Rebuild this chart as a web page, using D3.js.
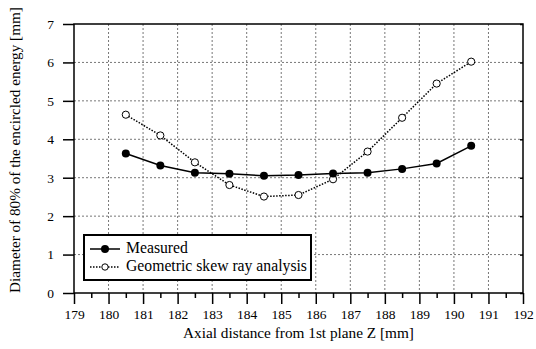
<!DOCTYPE html>
<html>
<head>
<meta charset="utf-8">
<script src="https://cdn.jsdelivr.net/npm/d3@7"></script>
<style>
  body { margin: 0; background: #fff; }
</style>
</head>
<body>
<svg id="chart" width="536" height="349"></svg>
<script>
const zValues = [180.5, 181.5, 182.5, 183.5, 184.5, 185.5, 186.5, 187.5, 188.5, 189.5, 190.5];
const measured = [3.63, 3.32, 3.13, 3.10, 3.05, 3.07, 3.11, 3.13, 3.23, 3.37, 3.83];
const geometric = [4.64, 4.10, 3.40, 2.81, 2.51, 2.55, 2.96, 3.68, 4.56, 5.45, 6.02];
const xTicks = d3.range(179, 193, 1);
const yTicks = d3.range(0, 8, 1);

const FONT = "'Liberation Serif'";
const margin = { top: 24, right: 13, bottom: 56, left: 74 };
const width = 536, height = 349;
const innerW = width - margin.left - margin.right;
const innerH = height - margin.top - margin.bottom;

const svg = d3.select("#chart");
const g = svg.append("g").attr("transform", `translate(${margin.left},${margin.top})`);

const x = d3.scaleLinear().domain([179, 192]).range([0, innerW]);
const y = d3.scaleLinear().domain([0, 7]).range([innerH, 0]);

// fit a text element to a target width by adjusting its font size
function fitWidth(sel, target) {
  const w = sel.node().getComputedTextLength();
  const fs = parseFloat(sel.style("font-size"));
  sel.style("font-size", (fs * target / w).toFixed(2) + "px");
}

// Grid
g.append("g").selectAll("line")
  .data(xTicks.filter(d => d > 179 && d < 192))
  .enter().append("line")
  .attr("x1", d => x(d)).attr("x2", d => x(d))
  .attr("y1", 0).attr("y2", innerH)
  .attr("stroke", "#777").attr("stroke-width", 1).attr("stroke-dasharray", "2,2");
g.append("g").selectAll("line")
  .data(yTicks.filter(d => d > 0 && d < 7))
  .enter().append("line")
  .attr("x1", 0).attr("x2", innerW)
  .attr("y1", d => y(d)).attr("y2", d => y(d))
  .attr("stroke", "#777").attr("stroke-width", 1).attr("stroke-dasharray", "2,2");

// Frame
g.append("rect").attr("width", innerW).attr("height", innerH)
  .attr("fill", "none").attr("stroke", "#000").attr("stroke-width", 1.5);

// Axes
const xAxis = g.append("g").attr("transform", `translate(0,${innerH})`)
  .call(d3.axisBottom(x).tickValues(xTicks).tickFormat(d3.format("d")).tickSize(11).tickPadding(5));
const xMinor = g.append("g").attr("transform", `translate(0,${innerH})`)
  .call(d3.axisBottom(x).tickValues(xTicks.slice(0, -1).map(d => d + 0.5)).tickFormat("").tickSize(5));
const yAxis = g.append("g")
  .call(d3.axisLeft(y).tickValues(yTicks).tickFormat(d3.format("d")).tickSize(11).tickPadding(9));
const yRight = g.append("g").attr("transform", `translate(${innerW},0)`)
  .call(d3.axisRight(y).tickValues(yTicks).tickFormat("").tickSize(-3));

[xAxis, xMinor, yAxis, yRight].forEach(a => {
  a.select(".domain").remove();
  a.selectAll("line").attr("stroke", "#000").attr("stroke-width", 1.5);
  a.selectAll("text").style("font-family", FONT).style("font-size", "13.5px")
    .attr("fill", "#000");
});

// Axis titles
const xTitle = svg.append("text")
  .attr("x", margin.left + innerW / 2).attr("y", 338)
  .attr("text-anchor", "middle")
  .style("font-family", FONT).style("font-size", "14px")
  .text("Axial distance from 1st plane Z [mm]");
fitWidth(xTitle, 231);
const yTitle = svg.append("text")
  .attr("transform", "translate(20,150) rotate(-90)")
  .attr("text-anchor", "middle")
  .style("font-family", FONT).style("font-size", "14px")
  .text("Diameter of 80% of the encircled energy [mm]");
fitWidth(yTitle, 286);

// Lines
const line = d3.line().x((d, i) => x(zValues[i])).y(d => y(d));
g.append("path").datum(geometric).attr("d", line)
  .attr("fill", "none").attr("stroke", "#000").attr("stroke-width", 1.5).attr("stroke-dasharray", "1.5,1.5");
g.append("path").datum(measured).attr("d", line)
  .attr("fill", "none").attr("stroke", "#000").attr("stroke-width", 1.5);

g.append("g").selectAll("circle").data(geometric).enter().append("circle")
  .attr("cx", (d, i) => x(zValues[i])).attr("cy", d => y(d)).attr("r", 3.6)
  .attr("fill", "#fff").attr("stroke", "#000").attr("stroke-width", 1);
g.append("g").selectAll("circle").data(measured).enter().append("circle")
  .attr("cx", (d, i) => x(zValues[i])).attr("cy", d => y(d)).attr("r", 4)
  .attr("fill", "#000");

// Legend
const legend = svg.append("g").attr("transform", "translate(84,235)");
legend.append("rect").attr("width", 227).attr("height", 45)
  .attr("fill", "#fff").attr("stroke", "#000").attr("stroke-width", 2);
legend.append("line").attr("x1", 6).attr("x2", 36).attr("y1", 14).attr("y2", 14)
  .attr("stroke", "#000").attr("stroke-width", 1.5);
legend.append("circle").attr("cx", 21).attr("cy", 14).attr("r", 4).attr("fill", "#000");
legend.append("line").attr("x1", 6).attr("x2", 36).attr("y1", 32).attr("y2", 32)
  .attr("stroke", "#000").attr("stroke-width", 1.5).attr("stroke-dasharray", "1.5,1.5");
legend.append("circle").attr("cx", 21).attr("cy", 32).attr("r", 3.2)
  .attr("fill", "#fff").attr("stroke", "#000").attr("stroke-width", 1);
legend.append("text").attr("x", 42).attr("y", 18)
  .style("font-family", FONT).style("font-size", "16px").text("Measured");
const legText = legend.append("text").attr("x", 42).attr("y", 36)
  .style("font-family", FONT).style("font-size", "16px").text("Geometric skew ray analysis");
fitWidth(legText, 181);
legend.select("text").style("font-size", legText.style("font-size"));
</script>
</body>
</html>
